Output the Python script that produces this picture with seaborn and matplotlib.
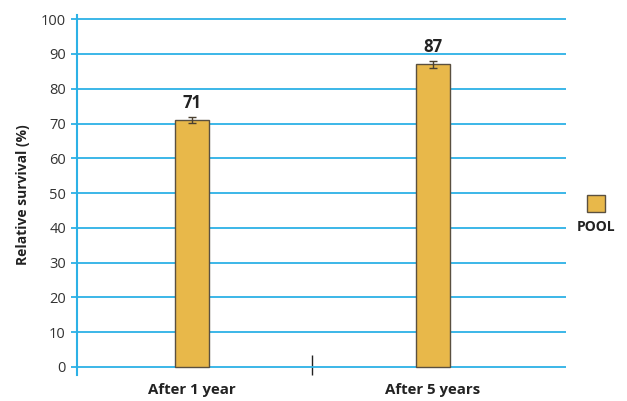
import matplotlib
matplotlib.use("Agg")
import matplotlib.pyplot as plt
import seaborn as sns
import pandas as pd

categories = ["After 1 year", "After 5 years"]
values = [71, 87]
errors = [0.9, 1.1]
series = ["POOL", "POOL"]
yticks = [0, 10, 20, 30, 40, 50, 60, 70, 80, 90, 100]

sns.set_theme(style="white")
plt.rcParams['font.family'] = ['Open Sans', 'DejaVu Sans']

BLUE = "#2cb1e6"
BAR = "#e8b84a"
EDGE = "#5a5040"

df = pd.DataFrame({"cat": categories, "val": values, "series": series})

fig = plt.figure(figsize=(6.27, 4.01), dpi=100)
ax = fig.add_axes([77/627, 1-375/401, (566-77)/627, (375-15)/401])

sns.barplot(data=df, x="cat", y="val", hue="series", palette=[BAR], width=0.14,
            saturation=1, edgecolor=EDGE, linewidth=1.0, errorbar=None, legend=False,
            ax=ax, zorder=3)
ax.errorbar(range(len(values)), values, yerr=errors, fmt="none", ecolor="#4a4030",
            elinewidth=1.0, capsize=3, capthick=1.0, zorder=4)
for i, v in enumerate(values):
    ax.text(i, v + 2.4, str(v), ha="center", va="bottom", fontsize=12,
            fontweight="bold", color="#222222")

ax.set_xlim(-0.477, 1.552)
ax.set_ylim(-2.3, 101.2)
ax.set_yticks(yticks)
ax.set_yticklabels([str(t) for t in yticks], fontsize=10.5, color="#333333")
ax.yaxis.grid(True, color=BLUE, linewidth=1.3, zorder=0)
ax.set_axisbelow(True)
ax.tick_params(axis="y", left=True, length=4, color=BLUE, width=1.3, pad=4, direction="out")

ax.set_xticks(range(len(categories)))
ax.set_xticklabels(categories, fontsize=10.8, fontweight="bold", color="#222222")
ax.tick_params(axis="x", which="major", length=0, pad=6)
ax.set_xticks([0.5], minor=True)
ax.tick_params(axis="x", which="minor", bottom=True, length=14.5, direction="in",
               color="#222222", width=1.0)

for s in ["top", "right", "bottom"]:
    ax.spines[s].set_visible(False)
ax.spines["left"].set_color(BLUE)
ax.spines["left"].set_linewidth(1.5)

ax.set_xlabel("")
ax.set_ylabel("Relative survival (%)", fontsize=10, fontweight="bold", color="#222222", labelpad=8)

fig.patches.append(plt.Rectangle((587/627, 1-212/401), 18/627, 17/401,
                                 transform=fig.transFigure, facecolor=BAR, edgecolor=EDGE, linewidth=1.0))
fig.text(596/627, 1-227/401, "POOL", ha="center", va="center", fontsize=10,
         fontweight="bold", color="#222222")

fig.savefig("out.png", dpi=100)
